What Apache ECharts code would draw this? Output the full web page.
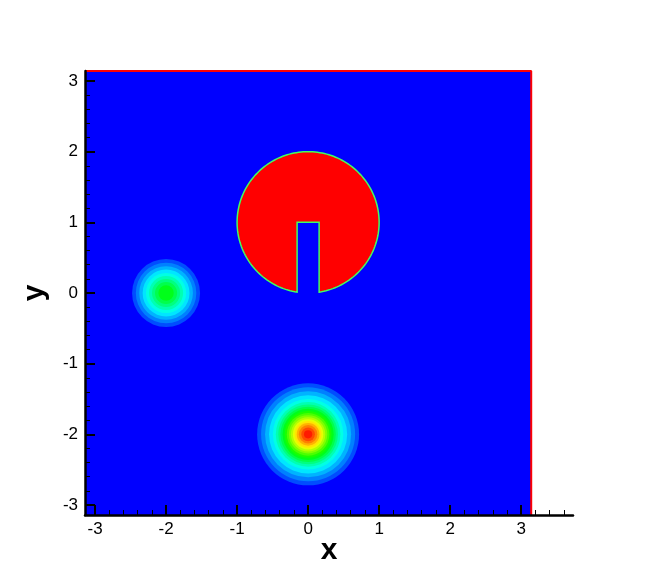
<!DOCTYPE html>
<html>
<head>
<meta charset="utf-8">
<script src="https://cdn.jsdelivr.net/npm/echarts@6/dist/echarts.min.js"></script>
<style>
html, body { margin: 0; padding: 0; background: #fff; }
#chart { width: 654px; height: 581px; }
</style>
</head>
<body>
<div id="chart"></div>
<script>
const PI = Math.PI

// axes
const xTickLabels = [-3, -2, -1, 0, 1, 2, 3]
const yTickLabels = [-3, -2, -1, 0, 1, 2, 3]
const xAxisMax = 3.73

// contour levels of the flood plot
const levels = [0.05, 0.10, 0.15, 0.20, 0.25, 0.30, 0.35, 0.40, 0.45, 0.50,
                0.55, 0.60, 0.65, 0.70, 0.75, 0.80, 0.85, 0.90, 0.95]

// big bump at (0,-2): radius where each level is crossed
const bigCenter = [0, -2]
const bigRadii = [0.718, 0.662, 0.606, 0.550, 0.496, 0.455, 0.420, 0.390, 0.360, 0.330,
                  0.300, 0.270, 0.242, 0.214, 0.188, 0.160, 0.130, 0.096, 0.058]

// small bump at (-2,0), peaks around 0.5
const smallCenter = [-2, 0]
const smallRadii = [0.479, 0.426, 0.378, 0.330, 0.283, 0.240, 0.198, 0.156, 0.108]

// slotted disk
const diskCenter = [0, 1]
const diskRadius = 1
const slotHalfWidth = 0.155
const slotTop = 1.0

// tecplot "small rainbow": blue - cyan - green - yellow - red
function rainbow(v) {
  const stops = [[0, [0, 0, 255]], [0.25, [0, 255, 255]], [0.5, [0, 255, 0]],
                 [0.75, [255, 255, 0]], [1, [255, 0, 0]]]
  v = Math.max(0, Math.min(1, v))
  for (let i = 1; i < stops.length; i++) {
    if (v <= stops[i][0]) {
      const a = stops[i - 1], b = stops[i]
      const t = (v - a[0]) / (b[0] - a[0])
      const c = a[1].map((x, k) => Math.round(x + (b[1][k] - x) * t))
      return 'rgb(' + c.join(',') + ')'
    }
  }
  return 'rgb(255,0,0)'
}

function bandValue(i) {
  const hi = i + 1 < levels.length ? levels[i + 1] : 1
  return (levels[i] + hi) / 2
}

// rings drawn outermost first
const rings = []
bigRadii.forEach((r, i) => rings.push([bigCenter[0], bigCenter[1], r, bandValue(i)]))
smallRadii.forEach((r, i) => rings.push([smallCenter[0], smallCenter[1], r, bandValue(i)]))

// minor tick positions every 0.2
function minorTicks(lo, hi) {
  const out = []
  for (let k = Math.ceil(lo * 5); k <= Math.floor(hi * 5); k++) {
    if (k % 5 !== 0) out.push(+(k / 5).toFixed(1))
  }
  return out
}

const labelFont = { color: '#000', fontSize: 17, fontFamily: 'Liberation Sans' }
const nameFont = { color: '#000', fontSize: 30, fontWeight: 'bold', fontFamily: 'Liberation Sans' }

const chart = echarts.init(document.getElementById('chart'))

chart.setOption({
  animation: false,
  grid: { left: 85, right: 81, top: 71, bottom: 66 },
  xAxis: [
    {
      type: 'value', min: -PI, max: xAxisMax, position: 'bottom', z: 10,
      name: 'x', nameLocation: 'middle', nameGap: 21, nameMoveOverlap: false, nameTextStyle: nameFont,
      axisLine: { onZero: false, lineStyle: { color: '#000', width: 2.5 } },
      axisTick: { inside: true, length: 10, customValues: xTickLabels, lineStyle: { color: '#000', width: 2 } },
      axisLabel: { customValues: xTickLabels, margin: 6, ...labelFont },
      splitLine: { show: false },
    },
    {
      type: 'value', min: -PI, max: xAxisMax, position: 'bottom', z: 10,
      axisLine: { show: false, onZero: false },
      axisTick: { inside: true, length: 5, customValues: minorTicks(-PI, xAxisMax), lineStyle: { color: '#000', width: 1 } },
      axisLabel: { show: false },
      splitLine: { show: false },
    },
  ],
  yAxis: [
    {
      type: 'value', min: -PI, max: PI, position: 'left', z: 10,
      name: 'y', nameLocation: 'middle', nameGap: 35, nameMoveOverlap: false, nameTextStyle: nameFont,
      axisLine: { onZero: false, lineStyle: { color: '#000', width: 2.5 } },
      axisTick: { inside: true, length: 10, customValues: yTickLabels, lineStyle: { color: '#000', width: 2 } },
      axisLabel: { customValues: yTickLabels, margin: 7, ...labelFont },
      splitLine: { show: false },
    },
    {
      type: 'value', min: -PI, max: PI, position: 'left', z: 10,
      axisLine: { show: false, onZero: false },
      axisTick: { inside: true, length: 5, customValues: minorTicks(-PI, PI), lineStyle: { color: '#000', width: 1 } },
      axisLabel: { show: false },
      splitLine: { show: false },
    },
  ],
  series: [
    {
      // background of the field
      type: 'custom',
      silent: true,
      data: [[-PI, -PI, PI, PI]],
      renderItem(params, api) {
        const p0 = api.coord([api.value(0), api.value(3)])
        const p1 = api.coord([api.value(2), api.value(1)])
        return {
          type: 'rect',
          shape: { x: p0[0], y: p0[1], width: p1[0] - p0[0], height: p1[1] - p0[1] },
          style: { fill: rainbow(0) },
        }
      },
      z: 1,
    },
    {
      // contour bands of the two bumps
      type: 'custom',
      silent: true,
      data: rings,
      renderItem(params, api) {
        const c = api.coord([api.value(0), api.value(1)])
        const r = api.size([api.value(2), 0])[0]
        return {
          type: 'circle',
          shape: { cx: c[0], cy: c[1], r: r },
          style: { fill: rainbow(api.value(3)) },
        }
      },
      z: 2,
    },
    {
      // slotted disk
      type: 'custom',
      silent: true,
      data: [[diskCenter[0], diskCenter[1], diskRadius, slotHalfWidth, slotTop]],
      renderItem(params, api) {
        const cx = api.value(0), cy = api.value(1), R = api.value(2)
        const hw = api.value(3), top = api.value(4)
        const a = Math.asin(hw / R)
        const start = -PI / 2 + a
        const end = -PI / 2 + 2 * PI - a
        const pts = []
        const n = 180
        for (let i = 0; i <= n; i++) {
          const t = start + (end - start) * i / n
          pts.push(api.coord([cx + R * Math.cos(t), cy + R * Math.sin(t)]))
        }
        pts.push(api.coord([cx - hw, top]))
        pts.push(api.coord([cx + hw, top]))
        return {
          type: 'polygon',
          shape: { points: pts },
          style: { fill: rainbow(1), stroke: '#40ff60', lineWidth: 1.5 },
        }
      },
      z: 3,
    },
    {
      // red edge along the top and right of the field
      type: 'line',
      silent: true,
      symbol: 'none',
      data: [[-PI, PI], [PI, PI], [PI, -PI]],
      lineStyle: { color: '#ff0000', width: 2 },
      z: 4,
    },
  ],
})
</script>
</body>
</html>
